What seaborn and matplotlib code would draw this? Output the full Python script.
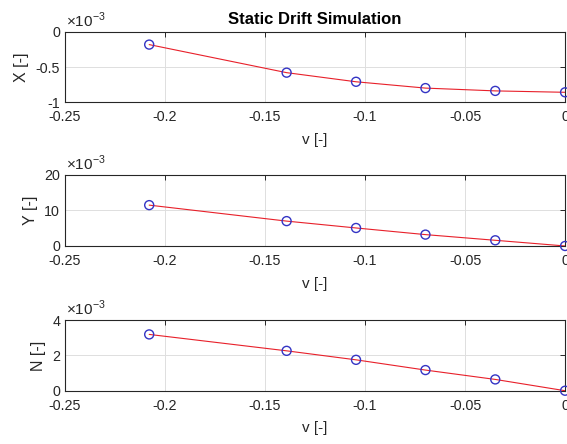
import numpy as np
import pandas as pd
import matplotlib
matplotlib.use("Agg")
import matplotlib.pyplot as plt
from matplotlib.ticker import FuncFormatter
import seaborn as sns

# Sway velocity (non-dimensional) for each drift run
v = [-0.2079, -0.1392, -0.1045, -0.0698, -0.0349, 0.0]
# Non-dimensional forces / moment, in units of 1e-3
X_force = [-0.18, -0.58, -0.71, -0.80, -0.84, -0.86]
Y_force = [11.5, 7.0, 5.07, 3.2, 1.6, 0.0]
N_moment = [3.19, 2.26, 1.75, 1.17, 0.64, 0.0]

y_labels = ["X [-]", "Y [-]", "N [-]"]
y_limits = [(-1, 0), (0, 20), (0, 4)]
y_ticks = [[-1, -0.5, 0], [0, 10, 20], [0, 2, 4]]
x_ticks = [-0.25, -0.2, -0.15, -0.1, -0.05, 0]

sns.set_style("white")
plt.rcParams["font.family"] = ["Liberation Sans", "DejaVu Sans"]
plt.rcParams["mathtext.fontset"] = "custom"
plt.rcParams["mathtext.rm"] = "Liberation Sans"

fig = plt.figure(figsize=(5.67, 4.44), dpi=100)
positions = [
    [0.1146, 0.770, 0.882, 0.158],
    [0.1146, 0.446, 0.882, 0.160],
    [0.1146, 0.120, 0.882, 0.159],
]

df = pd.DataFrame({"v": v, "X": X_force, "Y": Y_force, "N": N_moment})
text_col = "#262626"

for i, col in enumerate(["X", "Y", "N"]):
    ax = fig.add_axes(positions[i])
    sns.lineplot(data=df, x="v", y=col, ax=ax, color="#e8202a", linewidth=0.8,
                 zorder=3)
    sns.scatterplot(data=df, x="v", y=col, ax=ax, marker="o", s=42,
                    facecolors="none", edgecolor="#3434c4", linewidth=1.0,
                    zorder=4, clip_on=False)
    ax.set_xlim(-0.25, 0)
    ax.set_ylim(*y_limits[i])
    ax.set_xticks(x_ticks)
    ax.set_yticks(y_ticks[i])
    fmt = FuncFormatter(lambda val, pos: "%g" % round(val, 4))
    ax.xaxis.set_major_formatter(fmt)
    ax.yaxis.set_major_formatter(fmt)
    ax.grid(True, color="#dedede", linewidth=0.7)
    ax.set_axisbelow(True)
    ax.tick_params(direction="in", length=3.5, width=0.7, top=True,
                   right=True, labelsize=10.3, colors=text_col)
    ax.tick_params(axis="x", pad=6)
    ax.tick_params(axis="y", pad=3.5)
    for sp in ax.spines.values():
        sp.set_color(text_col)
        sp.set_linewidth(0.8)
    ax.set_xlabel("v [-]", fontsize=11, color=text_col, labelpad=6)
    ax.set_ylabel(y_labels[i], fontsize=11.5, color=text_col, labelpad=4.5)
    ax.text(0.003, 1.025, r"$\times 10^{-3}$", transform=ax.transAxes,
            fontsize=11, color=text_col, ha="left", va="bottom")
    if i == 0:
        ax.set_title("Static Drift Simulation", fontsize=12, fontweight="bold",
                     color="black", pad=6)

fig.savefig("out.png", dpi=100)
